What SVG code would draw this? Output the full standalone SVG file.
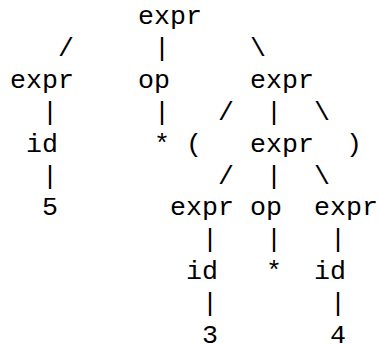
<svg xmlns="http://www.w3.org/2000/svg" width="379" height="345" viewBox="0 0 379 345">
<style>
text { font-family: "Liberation Mono", "Courier New", monospace; font-size: 26.67px; fill: #000; }
</style>
<rect width="379" height="345" fill="#fff"/>
<g id="connectors">
<text x="58" y="55.9">/</text>
<text x="154" y="55.9">|</text>
<text x="250" y="55.9">\</text>
<text x="42" y="119.7">|</text>
<text x="154" y="119.7">|</text>
<text x="218" y="119.7">/</text>
<text x="266" y="119.7">|</text>
<text x="314" y="119.7">\</text>
<text x="42" y="183.5">|</text>
<text x="218" y="183.5">/</text>
<text x="266" y="183.5">|</text>
<text x="314" y="183.5">\</text>
<text x="202" y="247.3">|</text>
<text x="266" y="247.3">|</text>
<text x="330" y="247.3">|</text>
<text x="202" y="311.1">|</text>
<text x="330" y="311.1">|</text>
</g>
<g id="root-expr"><text x="138" y="24">expr</text></g>
<g id="left-expr"><text x="10" y="87.8">expr</text></g>
<g id="op1"><text x="138" y="87.8">op</text></g>
<g id="right-expr"><text x="250" y="87.8">expr</text></g>
<g id="id1"><text x="26" y="151.6">id</text></g>
<g id="star1"><text x="154" y="151.6">*</text></g>
<g id="lparen"><text x="186" y="151.6">(</text></g>
<g id="inner-expr"><text x="250" y="151.6">expr</text></g>
<g id="rparen"><text x="346" y="151.6">)</text></g>
<g id="num5"><text x="42" y="215.4">5</text></g>
<g id="expr-a"><text x="170" y="215.4">expr</text></g>
<g id="op2"><text x="250" y="215.4">op</text></g>
<g id="expr-b"><text x="314" y="215.4">expr</text></g>
<g id="id2"><text x="186" y="279.2">id</text></g>
<g id="star2"><text x="266" y="279.2">*</text></g>
<g id="id3"><text x="314" y="279.2">id</text></g>
<g id="num3"><text x="202" y="343">3</text></g>
<g id="num4"><text x="330" y="343">4</text></g>
</svg>
